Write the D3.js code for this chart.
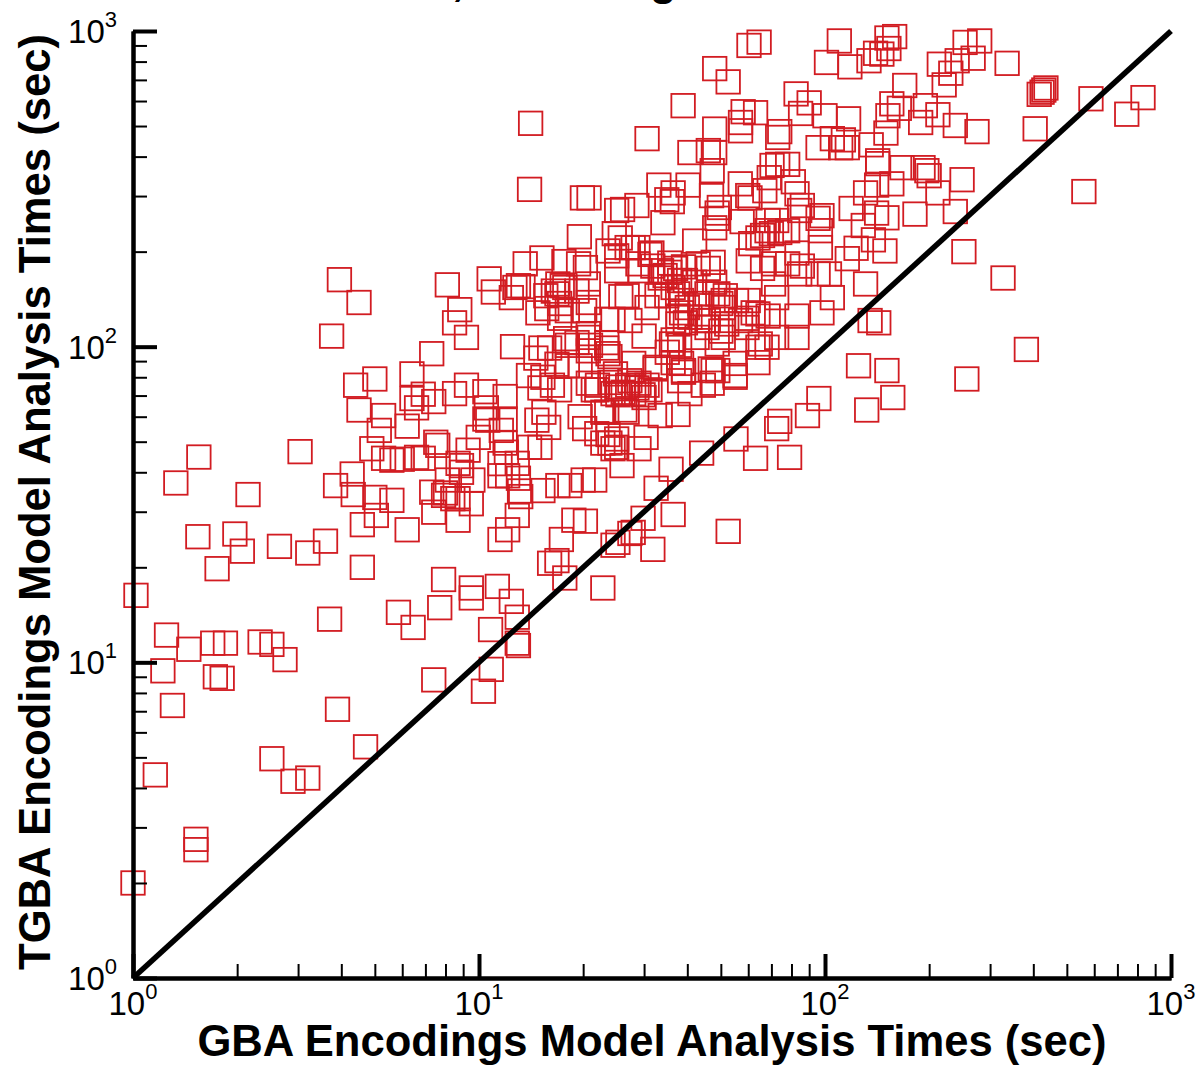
<!DOCTYPE html>
<html>
<head>
<meta charset="utf-8">
<script src="https://cdnjs.cloudflare.com/ajax/libs/d3/7.8.5/d3.min.js"></script>
<style>
  html, body { margin: 0; background: #fff; }
  svg { display: block; }
  text { font-family: "Liberation Sans", Arial, sans-serif; fill: #000; }
  .axis path { stroke: #000; stroke-width: 4; }
  .axis line { stroke: #000; stroke-width: 2; }
  .axis.major line { stroke-width: 4; }
  .tickLabel { font-size: 33px; }
  .exp { font-size: 22px; }
  .title { font-size: 43.6px; font-weight: bold; }
  .point { fill: none; stroke: #d21c22; stroke-width: 1.8; }
  .diagonal { stroke: #000; stroke-width: 5.5; fill: none; }
</style>
</head>
<body>
<div id="chart"></div>
<script>
// values, seconds: [GBA, TGBA]
var analysisTimes = [
  [1.0,2.0],[1.52,2.55],[1.52,2.75],[1.16,4.4],[2.52,4.95],[2.9,4.2],[3.2,4.3],[4.7,5.4],[3.9,7.1],[1.3,7.3],
  [1.22,9.4],[1.25,12.2],[1.45,11],[1.02,16.3],[1.7,11.5],[1.85,11.5],[1.73,9],[1.81,8.9],[2.33,11.6],[2.52,11.4],
  [2.75,10.2],[3.7,13.7],[1.75,19.8],[1.33,37],[1.55,44.7],[1.54,25],[1.97,25.5],[2.07,22.5],[2.15,34],[2.65,23.3],
  [3.04,46.5],[3.2,22.2],[3.6,24.2],[3.95,163],[4.5,138],[3.75,108],
  [8.1,157],[8.8,131],[8.5,119],[9.2,107],[10.7,164],[11,149],[12.4,143],[13,156],[13.4,155],[13.6,183],
  [15.2,191],[12.5,100],[15.1,99],[16,99],[14.6,92],[13.9,81],[7.3,95],[6.4,82],[5,79],[4.4,75.5],
  [9.2,75.5],[8.5,71],[6.9,70.7],[7.4,67],[6.4,68.5],[6.6,64],[4.5,63],[5.3,60.5],[5.15,54.3],[6.2,56],
  [7.6,48.7],[7.5,49.8],[4.9,47.5],[5.3,44.3],[6,44],[6.9,44.3],[9.3,47],[8.7,42.7],[8.9,40],[9.6,37.8],
  [3.85,36.3],[4.3,39.5],[4.33,34],[5,33.3],[5.6,32.6],[5.05,29.2],[4.6,27.3],[6.2,26.3],[7.3,34.6],[8,34.4],
  [8.7,33],[9.5,31.8],[7.4,29.9],[8.7,28.2],[8.4,33],[7.9,33.8],[8.9,42],
  [4.6,20],[7.9,18.3],[9.5,17.2],[9.5,16],[11.3,17.4],[12.4,15.6],[5.85,14.4],[7.7,14.9],[6.45,12.9],[10.8,12.7],
  [12.9,13.9],[12.9,11.5],[13,11.3],[10.85,9.5],[10.3,8.1],[7.4,8.8],
  [17.3,24.5],[16.8,21],[16,20.6],[17.7,18.5],[22.8,17.2],[18.8,28.2],[20.3,28],[15.3,35],[16.9,36.3],[18.3,36.3],
  [20,37.8],[21.6,37.8],[13,38.3],[13.1,34.9],[13.2,33.5],[12.9,29.2],[12.1,26.3],[11.5,24.5],[11.5,42.6],[12.9,42.7],
  [11.9,49.5],[11.6,54.3],[10.4,59],[11.9,59],[10.6,58.5],[10.5,64],[11.9,69.5],[10.4,72],[14.7,58.5],[15.9,55.5],
  [15.4,62],[15,74],[16.3,75.5],[17.1,73],[14,48],[15,48],[12,46.3],[11.5,39],[19.6,60],[20.2,55],
  [25.9,42],[25,51],[23.9,49.5],[22.8,49.5],[25,48],[23.6,52.7],[24.4,47.5],[29,47.5],[30.4,51.6],[26.4,63],
  [22.8,62],[23.4,62],[26.8,62],[33.4,60.5],[37.6,61],[32.5,35.6],[36.4,29.4],[29.8,28.6],[27.9,25.8],[27.3,25.6],
  [25.2,24],[24.4,23.5],[31.8,22.8],[52.5,26],[35.9,40.9],[44,46],[55.3,51],[63,44.3],[79,44.6],[74,58],
  [72.5,55],[89,60.5],[96,68.5],[125,87],[151,84],[157,69],[132,63],[257,79],[382,98],[135,121],
  [143,119],[131,158],[252,200],[327,165],[560,310],[238,268],[249,338],[182,263],[212,307],[200,348],
  [197,361],[192,369],[167,369],[156,328],[142,388],[142,380],[131,307],[141,325],[119,274],[141,265],
  [151,256],[129,242],[138,218],[123,205],[149,201],[113,452],[116,427],[95.5,427],[136,436],[150,475],
  [156,588],[164,569],[152,539],[195,580],[212,543],[189,513],[238,502],[275,480],[170,672],[82.5,632],
  [90,592],[85,548],[100,539],[117,527],[58,555],[63,551],[57,513],[48,489],[74,480],[30.6,456],
  [40.7,412],[46,418],[48,412],[47.2,361],[38.9,580],[48,760],[52.5,690],[64.5,922],[60.3,900],[14.1,510],
  [110,930],[101,795],[118,770],[134,805],[140,850],[146,845],[153,880],[151,950],[159,960],[254,920],
  [280,930],[241,805],[268,820],[336,790],[214,785],[231,735],[221,675],[435,660],[424,640],[416,630],
  [429,650],[587,610],[830,615],[745,545],[405,490],
  [28.6,280],[25,270],[19.5,223],[24.6,228],[19.9,296],[20.8,296],[14,315],[33.1,325],[40.2,325],[36.4,307],
  [34.9,292],[36.2,288],[26,272],[34,247],[56.9,328],[70.3,375],[73,378],[78,378],[69,343],[67,312],
  [60.7,296],[59.8,301],[83,305],[81,333],[47,301],[49.5,276],[48.8,265],[48,238],[48.8,255],[57.6,249],
  [72.5,251],[68.5,251],[98,260],[95.5,255],[86,280],[84.5,270],[97,233],[111,427],[105,456],[73,460],
  [57,483],[42,216],[61,212],[68,233],[64,221],[78,233],[74,230],[70,228],[66,225],[97,206],
  [83,198],[116,190],[103,170],[95.5,170],[86,180],[84.5,170],[66,177],[71,158],[78,183],[71,183],
  [60,187],[47.5,185],[105,143],[98,128],[83,125],[83,107],[72.5,143],[72.5,107],[64,99.6],[64,89],
  [55,81],[46.6,85],[38,101],[36,102],[36.4,89],[39,84],[32.3,86],[30,108],[30.6,133],[32.7,145],
  [26.8,145],[28.8,206],[31.6,198],[33.7,174],[34.5,168],[35.6,172],[37,177],[39,179],[43,183],[38,162],
  [39.5,162],[36.4,154],[37.5,147],[38.5,140],[38.5,128],[42,160],[46,177],[48,160],[50.8,140],[50,137],
  [50.8,133],[51.5,145],[49,147],[60,140],[62,128],[64,127],[59.5,123],[52,118],[50.8,107],[45.6,115],
  [44.5,121],[40.7,124],[37.6,118],[68.5,125],[55.5,140],[43.5,137],[45.6,147],
  [29.8,70.4],[28,71],[25.2,70.4],[21.4,73],[20.7,76.6],[22,75.5],[30.6,75.5],[31.2,73],[30,69],[23.9,77],
  [25.2,74.5],[26.9,75.5],[28.6,74],[26.1,71.7],[24.4,71],[21.9,73],[40.7,71],[44.5,75.5],[47.2,76.6],[55,80],
  [49,84],[39,83],[38,78],[32.3,85],[28,88.5],[24.8,82],[23.6,95],[20.7,97],[35,96],[38.5,88.5],
  [23.4,103],[23.9,93],[23.4,99],[18,87],[17.8,106],[18,101],[19.2,103],[20.7,107],[21,101],[20.7,110],
  [24.4,122],[23.4,122],[25.7,144],[20.7,158],[20.7,138],[16.4,150],[15.7,132],[17.1,123],[17.4,156],[19.2,150],
  [16.8,147],[17.7,154],[18,130],[20.2,130],[16.9,158],[15.6,145],[12.7,154],[17.6,186],[19.4,183],[20.3,178],
  [23.6,201],[25,194],[25,174],[27.9,206],[28.8,183],[27.3,121],[26.8,206],[29.2,174],[25.6,221],[31.2,196],
  [31.8,180],[35.6,184],[33.4,165],[34.9,145],[37.6,125],[39.5,119],[40,133],[43.5,124],[46,121],[50,112],
  [57,121],[59.5,115],[65,102],[68,99.6],[48.8,102],[42.7,107],[36.4,105],[47.5,84],[55,88.5],[27.3,78],
  [29,76.6],[14.8,128],[17.1,137],[16.8,88],[15.3,80],[19.6,87],[21.9,53],[9.95,51.6],[6.6,44.6],[5.6,43.7],
  [8.1,37.8],[12.1,39]
];
var diagonal = [1, 1000];
var majorTicks = [1, 10, 100, 1000];
var minorTicks = [2, 3, 4, 5, 6, 7, 8, 9, 20, 30, 40, 50, 60, 70, 80, 90, 200, 300, 400, 500, 600, 700, 800, 900];
var xLabel = "GBA Encodings Model Analysis Times (sec)";
var yLabel = "TGBA Encodings Model Analysis Times (sec)";
// the title is cut by the top edge, only these two descenders can be read
var titleScraps = [",", "g"];

var width = 1203
  , height = 1070
  , padding = {top: 31, right: 32, bottom: 92, left: 133}
  , side = 23.5
;

var x = d3.scaleLog()
    .domain([1, 1000])
    .range([padding.left, width - padding.right]);
var y = d3.scaleLog()
    .domain([1, 1000])
    .range([height - padding.bottom, padding.top]);

var svg = d3.select("#chart")
  .append("svg")
    .attr("width", width)
    .attr("height", height)
    .attr("viewBox", [0, 0, width, height].join(' '));

svg.selectAll(".point")
    .data(analysisTimes)
  .enter()
  .append("rect")
    .attr("class", "point")
    .attr("x", function(d) { return x(d[0]) - side / 2; })
    .attr("y", function(d) { return y(d[1]) - side / 2; })
    .attr("width", side)
    .attr("height", side);

svg.append("line")
    .attr("class", "diagonal")
    .attr("x1", x(diagonal[0]))
    .attr("y1", y(diagonal[0]))
    .attr("x2", x(diagonal[1]))
    .attr("y2", y(diagonal[1]));

function noLabel() { return ""; }

// minor ticks first, the heavier major ones go on top with the axis line
svg.append("g")
    .attr("class", "axis")
    .attr("transform", "translate(0," + y(1) + ")")
    .call(d3.axisTop(x).tickValues(minorTicks).tickSize(14).tickSizeOuter(0).tickFormat(noLabel));
svg.append("g")
    .attr("class", "axis")
    .attr("transform", "translate(" + x(1) + ",0)")
    .call(d3.axisRight(y).tickValues(minorTicks).tickSize(14).tickSizeOuter(0).tickFormat(noLabel));
svg.append("g")
    .attr("class", "axis major")
    .attr("transform", "translate(0," + y(1) + ")")
    .call(d3.axisTop(x).tickValues(majorTicks).tickSize(24).tickSizeOuter(0).tickFormat(noLabel));
svg.append("g")
    .attr("class", "axis major")
    .attr("transform", "translate(" + x(1) + ",0)")
    .call(d3.axisRight(y).tickValues(majorTicks).tickSize(24).tickSizeOuter(0).tickFormat(noLabel));

function powerLabel(sel, px, py, anchor) {
    sel.selectAll(".tickLabel")
        .data(majorTicks)
      .enter()
      .append("text")
        .attr("class", "tickLabel")
        .attr("text-anchor", anchor)
        .attr("x", px)
        .attr("y", py)
        .each(function(d) {
            var t = d3.select(this);
            t.append("tspan").text("10");
            t.append("tspan")
                .attr("class", "exp")
                .attr("dy", -16)
                .text(Math.round(Math.log10(d)));
        });
}

svg.append("g").call(powerLabel, function(d) { return x(d); }, 1015, "middle");
svg.append("g").call(powerLabel, x(1) - 16, function(d) { return y(d) + 12; }, "end");

svg.append("text")
    .attr("class", "title")
    .attr("text-anchor", "middle")
    .attr("x", 652)
    .attr("y", 1056)
    .text(xLabel);
svg.append("text")
    .attr("class", "title")
    .attr("text-anchor", "middle")
    .attr("transform", "translate(50,502) rotate(-90)")
    .text(yLabel);

svg.selectAll(".scrap")
    .data(titleScraps)
  .enter()
  .append("text")
    .attr("class", "title scrap")
    .attr("x", function(d, i) { return i ? 650 : 452; })
    .attr("y", -5)
    .text(function(d) { return d; });
</script>
</body>
</html>
